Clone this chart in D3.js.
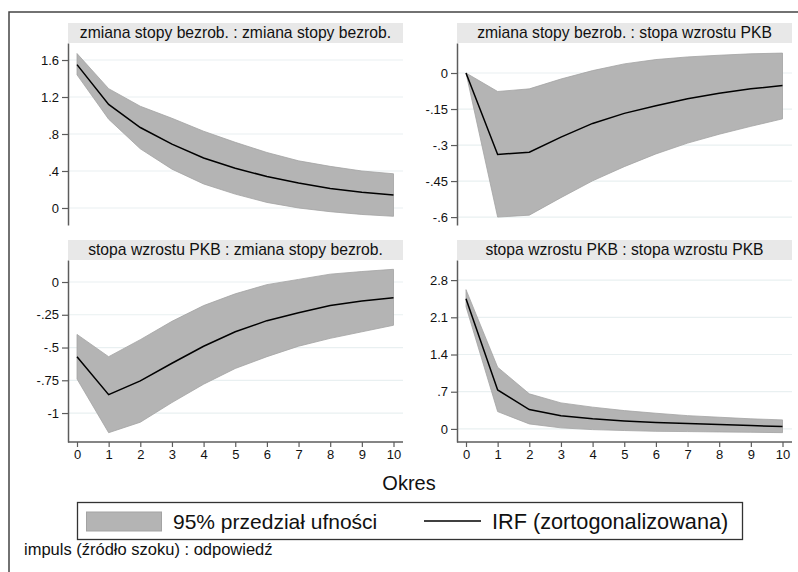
<!DOCTYPE html>
<html>
<head>
<meta charset="utf-8">
<script src="https://cdn.jsdelivr.net/npm/d3@7"></script>
<style>
  body { margin: 0; background: #fff; }
  svg { display: block; font-family: "Liberation Sans", Arial, sans-serif; }
</style>
</head>
<body>
<svg id="chart" width="798" height="572"></svg>
<script>
// Okresy (horyzont odpowiedzi)
var periods = [0, 1, 2, 3, 4, 5, 6, 7, 8, 9, 10];

var panelTitles = [
	"zmiana stopy bezrob. : zmiana stopy bezrob.",
	"zmiana stopy bezrob. : stopa wzrostu PKB",
	"stopa wzrostu PKB : zmiana stopy bezrob.",
	"stopa wzrostu PKB : stopa wzrostu PKB"
];

// IRF i 95% przedzialy, czytane z obrazka
var irfUU = [1.55, 1.12, 0.87, 0.69, 0.54, 0.43, 0.34, 0.27, 0.21, 0.17, 0.14];
var loUU  = [1.44, 0.96, 0.64, 0.42, 0.26, 0.15, 0.06, 0.00, -0.04, -0.07, -0.09];
var hiUU  = [1.67, 1.29, 1.10, 0.97, 0.83, 0.71, 0.60, 0.51, 0.45, 0.40, 0.37];

var irfUG = [0, -0.339, -0.330, -0.267, -0.21, -0.168, -0.136, -0.107, -0.084, -0.066, -0.052];
var loUG  = [0, -0.600, -0.592, -0.519, -0.449, -0.39, -0.337, -0.292, -0.255, -0.222, -0.191];
var hiUG  = [0, -0.077, -0.066, -0.025, 0.01, 0.038, 0.056, 0.067, 0.074, 0.08, 0.083];

var irfGU = [-0.57, -0.86, -0.755, -0.62, -0.49, -0.38, -0.295, -0.235, -0.18, -0.145, -0.12];
var loGU  = [-0.74, -1.15, -1.07, -0.92, -0.78, -0.66, -0.57, -0.49, -0.43, -0.38, -0.33];
var hiGU  = [-0.40, -0.57, -0.44, -0.30, -0.18, -0.09, -0.02, 0.02, 0.06, 0.08, 0.097];

var irfGG = [2.45, 0.734, 0.364, 0.25, 0.19, 0.15, 0.12, 0.10, 0.082, 0.063, 0.044];
var loGG  = [2.30, 0.326, 0.094, 0.02, -0.013, -0.03, -0.045, -0.05, -0.057, -0.063, -0.07];
var hiGG  = [2.62, 1.16, 0.66, 0.49, 0.41, 0.345, 0.295, 0.25, 0.22, 0.19, 0.17];

// Osie Y
var yTicksUU = [0, 0.4, 0.8, 1.2, 1.6];
var yTicksUG = [-0.6, -0.45, -0.3, -0.15, 0];
var yTicksGU = [-1, -0.75, -0.5, -0.25, 0];
var yTicksGG = [0, 0.7, 1.4, 2.1, 2.8];
var yDomains = [[-0.184, 1.784], [-0.633, 0.125], [-1.221, 0.168], [-0.246, 3.178]];
var xTicks = periods;

var legendLabels = ["95% przedział ufności", "IRF (zortogonalizowana)"];
var xTitle = "Okres";
var note = "impuls (źródło szoku) : odpowiedź";

var panels = [
	{title: panelTitles[0], irf: irfUU, lo: loUU, hi: hiUU, ticks: yTicksUU, dom: yDomains[0], col: 0, row: 0},
	{title: panelTitles[1], irf: irfUG, lo: loUG, hi: hiUG, ticks: yTicksUG, dom: yDomains[1], col: 1, row: 0},
	{title: panelTitles[2], irf: irfGU, lo: loGU, hi: hiGU, ticks: yTicksGU, dom: yDomains[2], col: 0, row: 1},
	{title: panelTitles[3], irf: irfGG, lo: loGG, hi: hiGG, ticks: yTicksGG, dom: yDomains[3], col: 1, row: 1}
];

const bandFill = "#b4b4b4";
const bandEdge = "#a3a3a3";
const axisColor = "#5c5c5c";
const gridColor = "#e9f0f1";

// Stata-like labels: .4 instead of 0.4
function fmt(v) {
	let s = String(+v.toFixed(2));
	return s.replace(/^(-?)0\./, "$1.");
}

function draw() {
	let svg = d3.select("#chart");

	// outer frame (right and bottom edges fall outside the picture)
	svg.append("rect")
		.attr("x", 9).attr("y", 12)
		.attr("width", 820).attr("height", 600)
		.attr("fill", "none")
		.attr("stroke", "#444")
		.attr("stroke-width", 1.5);

	const colX = [68, 457];
	const rowY = [43, 260];
	const pw = 335, ph = 182, titleH = 20;

	panels.forEach(p => {
		let x0 = colX[p.col], y0 = rowY[p.row];
		let g = svg.append("g");

		let x = d3.scaleLinear().domain([0, 10]).range([x0 + 9, x0 + pw - 9.5]);
		let y = d3.scaleLinear().domain(p.dom).range([y0 + ph, y0]);

		// title strip
		g.append("rect")
			.attr("x", x0).attr("y", y0 - titleH)
			.attr("width", pw).attr("height", titleH)
			.attr("fill", "#e8e8e8");
		g.append("text")
			.attr("x", x0 + pw / 2).attr("y", y0 - 5)
			.attr("text-anchor", "middle")
			.attr("font-size", 15.7)
			.attr("fill", "#111")
			.text(p.title);

		// grid
		g.selectAll(".grid")
			.data(p.ticks)
			.enter().append("line")
			.attr("x1", x0).attr("x2", x0 + pw)
			.attr("y1", d => y(d)).attr("y2", d => y(d))
			.attr("stroke", gridColor)
			.attr("stroke-width", 1.2);

		// band
		let area = d3.area()
			.x((d, i) => x(periods[i]))
			.y0((d, i) => y(p.lo[i]))
			.y1((d, i) => y(p.hi[i]));
		g.append("path")
			.datum(periods)
			.attr("d", area)
			.attr("fill", bandFill)
			.attr("stroke", bandEdge)
			.attr("stroke-width", 0.8);

		// IRF
		let line = d3.line()
			.x((d, i) => x(periods[i]))
			.y(d => y(d));
		g.append("path")
			.datum(p.irf)
			.attr("d", line)
			.attr("fill", "none")
			.attr("stroke", "#000")
			.attr("stroke-width", 1.5);

		// y axis
		let ya = g.append("g")
			.attr("transform", `translate(${x0},0)`)
			.call(d3.axisLeft(y).tickValues(p.ticks).tickFormat(fmt).tickSize(6).tickPadding(3).tickSizeOuter(0));
		ya.select(".domain").attr("stroke", axisColor).attr("stroke-width", 1.5);
		ya.selectAll(".tick line").attr("stroke", axisColor).attr("stroke-width", 1.2);
		ya.selectAll(".tick text").attr("font-size", 13).attr("fill", "#111")
			.attr("font-family", "'Liberation Sans', Arial, sans-serif");

		// x axis only on bottom row
		if (p.row == 1) {
			let xa = g.append("g")
				.attr("transform", `translate(0,${y0 + ph})`)
				.call(d3.axisBottom(x).tickValues(xTicks).tickFormat(d3.format("d")).tickSize(5).tickPadding(3).tickSizeOuter(0));
			xa.select(".domain").attr("stroke", axisColor).attr("stroke-width", 1.5)
				.attr("d", `M${x0},0H${x0 + pw}`);
			xa.selectAll(".tick line").attr("stroke", axisColor).attr("stroke-width", 1.2);
			xa.selectAll(".tick text").attr("font-size", 13).attr("fill", "#111")
				.attr("font-family", "'Liberation Sans', Arial, sans-serif");
		}
	});

	// x title
	svg.append("text")
		.attr("x", 409).attr("y", 490)
		.attr("text-anchor", "middle")
		.attr("font-size", 20)
		.attr("fill", "#111")
		.text(xTitle);

	// legend
	let lg = svg.append("g");
	lg.append("rect")
		.attr("x", 77.5).attr("y", 502.5)
		.attr("width", 665).attr("height", 37)
		.attr("fill", "#fff")
		.attr("stroke", "#333")
		.attr("stroke-width", 1.3);
	lg.append("rect")
		.attr("x", 86.5).attr("y", 512)
		.attr("width", 75).attr("height", 19)
		.attr("fill", bandFill)
		.attr("stroke", bandEdge)
		.attr("stroke-width", 1);
	lg.append("text")
		.attr("x", 173).attr("y", 529)
		.attr("font-size", 21)
		.attr("fill", "#111")
		.text(legendLabels[0]);
	lg.append("line")
		.attr("x1", 424).attr("x2", 481)
		.attr("y1", 521).attr("y2", 521)
		.attr("stroke", "#000")
		.attr("stroke-width", 1.5);
	lg.append("text")
		.attr("x", 492).attr("y", 529)
		.attr("font-size", 21.7)
		.attr("fill", "#111")
		.text(legendLabels[1]);

	// note
	svg.append("text")
		.attr("x", 24).attr("y", 555)
		.attr("font-size", 16.5)
		.attr("fill", "#111")
		.text(note);
}

if (document.readyState !== "loading") {
	draw();
} else {
	document.addEventListener("DOMContentLoaded", draw);
}
</script>
</body>
</html>
